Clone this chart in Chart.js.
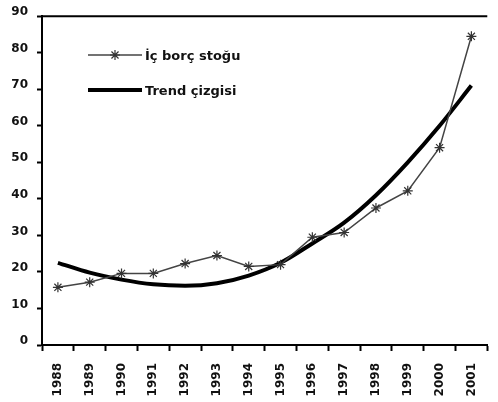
<!DOCTYPE html>
<html>
<head>
<meta charset="utf-8">
<script src="https://cdn.jsdelivr.net/npm/chart.js@4.4.0/dist/chart.umd.min.js"></script>
<style>
  html, body { margin: 0; padding: 0; background: #fff; }
  #wrap { position: relative; width: 498px; height: 402px; }
  .leg { position: absolute; left: 88px; font: bold 13px "DejaVu Sans", sans-serif; color: #111; display: flex; align-items: center; }
  .leg canvas { margin-right: 3px; }
</style>
</head>
<body>
<div id="wrap">
  <canvas id="chart" width="498" height="402"></canvas>
  <div class="leg" style="top:46px"><canvas id="legA" width="54" height="18"></canvas><span id="labA"></span></div>
  <div class="leg" style="top:81px"><canvas id="legB" width="54" height="18"></canvas><span id="labB"></span></div>
</div>
<script>
// Chart data
const years = ['1988','1989','1990','1991','1992','1993','1994','1995','1996','1997','1998','1999','2000','2001'];
const debtStock = [15.8, 17.2, 19.6, 19.6, 22.3, 24.5, 21.5, 22, 29.5, 30.8, 37.5, 42.2, 54, 84.5];
const trendLine = [22.5, 19.8, 17.9, 16.6, 16.2, 16.9, 19, 22.5, 27.8, 33.5, 41, 50, 60, 71];
const seriesNames = ['İç borç stoğu', 'Trend çizgisi'];
const yTicks = [0, 10, 20, 30, 40, 50, 60, 70, 80, 90];

const tickFont = { family: 'DejaVu Sans', size: 12, weight: 'bold' };

// top frame line of the plot area
const topBorder = {
    id: 'topBorder',
    afterDraw(chart) {
        const { ctx, chartArea } = chart;
        ctx.save();
        ctx.strokeStyle = '#000';
        ctx.lineWidth = 2;
        ctx.beginPath();
        ctx.moveTo(chartArea.left, chartArea.top);
        ctx.lineTo(chartArea.right, chartArea.top);
        ctx.stroke();
        ctx.restore();
    }
};

new Chart(document.getElementById('chart'), {
    type: 'line',
    data: {
        labels: years,
        datasets: [
            { label: seriesNames[0], data: debtStock, borderColor: '#444', borderWidth: 1.5,
              pointStyle: 'star', pointRadius: 5, pointBorderColor: '#333', pointBorderWidth: 1.2,
              tension: 0 },
            { label: seriesNames[1], data: trendLine, borderColor: '#000', borderWidth: 4,
              pointRadius: 0, tension: 0.4, cubicInterpolationMode: 'monotone' }
        ]
    },
    options: {
        responsive: false,
        animation: false,
        layout: { padding: { top: 15, right: 0, bottom: 0, left: 0 } },
        plugins: { legend: { display: false }, tooltip: { enabled: false } },
        scales: {
            x: {
                offset: true,
                grid: { offset: true, drawOnChartArea: false, tickLength: 6, tickColor: '#000', tickWidth: 2 },
                border: { color: '#000', width: 2 },
                ticks: { color: '#111', font: tickFont, minRotation: 90, maxRotation: 90, padding: 12, autoSkip: false },
                afterFit(scale) { scale.height = 57; }
            },
            y: {
                min: 0, max: 90,
                afterBuildTicks(scale) { scale.ticks = yTicks.map(v => ({ value: v })); },
                grid: { drawOnChartArea: false, tickLength: 5, tickColor: '#000', tickWidth: 2 },
                border: { color: '#000', width: 2 },
                ticks: { color: '#111', font: tickFont, padding: 9, labelOffset: -4 },
                afterFit(scale) { scale.width = 42; }
            }
        }
    },
    plugins: [topBorder]
});

// legend samples
function drawSample(id, color, width, star) {
    const c = document.getElementById(id).getContext('2d');
    c.strokeStyle = color; c.lineWidth = width;
    c.beginPath(); c.moveTo(0, 9); c.lineTo(54, 9); c.stroke();
    if (star) {
        c.lineWidth = 1.2; c.strokeStyle = '#333';
        c.beginPath();
        for (let i = 0; i < 4; i++) {
            const a = i * Math.PI / 4;
            c.moveTo(27 - 5 * Math.cos(a), 9 - 5 * Math.sin(a));
            c.lineTo(27 + 5 * Math.cos(a), 9 + 5 * Math.sin(a));
        }
        c.stroke();
    }
}
drawSample('legA', '#444', 1.5, true);
drawSample('legB', '#000', 4, false);
document.getElementById('labA').textContent = seriesNames[0];
document.getElementById('labB').textContent = seriesNames[1];
</script>
</body>
</html>
